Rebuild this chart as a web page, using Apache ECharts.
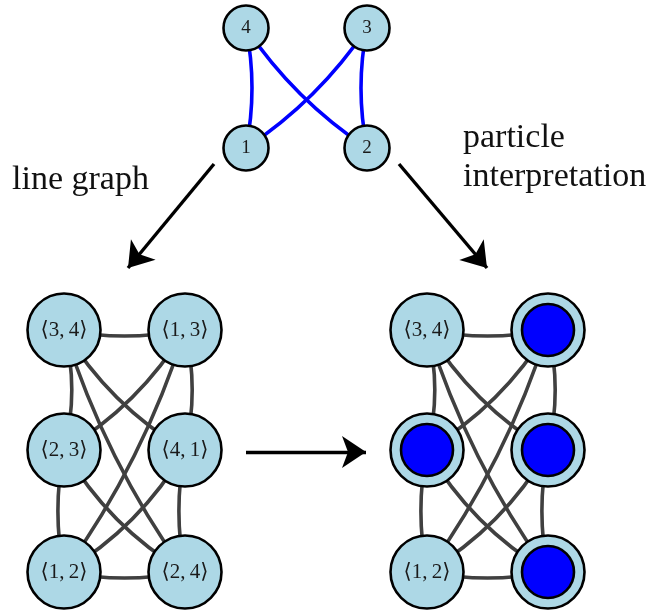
<!DOCTYPE html>
<html><head><meta charset="utf-8">
<script src="https://cdn.jsdelivr.net/npm/echarts@6/dist/echarts.min.js"></script>
<style>html,body{margin:0;padding:0;background:#fff}#c{width:653px;height:615px}</style>
</head><body><div id="c"></div>
<script>
// ---- data ----
const baseNodes = ['1', '2', '3', '4'];
const baseEdges = [['4', '1'], ['4', '2'], ['3', '1'], ['3', '2']];
const lineNodes = ['⟨3,\u20094⟩', '⟨1,\u20093⟩', '⟨2,\u20093⟩', '⟨4,\u20091⟩', '⟨1,\u20092⟩', '⟨2,\u20094⟩'];
const lineEdges = [
  [0, 1], [0, 2], [0, 3], [0, 5],
  [1, 3], [1, 2], [1, 4],
  [2, 4], [2, 5],
  [3, 4], [3, 5],
  [4, 5]
];
const occupied = [false, true, true, true, false, true];
const captionLeft = 'line graph';
const captionRight = ['particle', 'interpretation'];

// ---- layout (pixel coordinates) ----
const basePos = { '1': [246, 148], '2': [367, 148], '3': [367, 28], '4': [246, 28] };
const baseCurve = { '4-1': 0.1, '4-2': -0.1, '3-1': 0.1, '3-2': -0.1 };
const leftCols = [64, 185], rightCols = [427, 548], rows = [330, 450, 572];
const lineCurve = [-0.1, 0.13, -0.125, -0.08, 0.12, 0.125, 0.08, -0.1, -0.13, 0.13, -0.1, -0.1];
const arrows = [
  [[214, 164], [128, 268]],
  [[399, 164], [487, 268]],
  [[246, 452], [366, 452]]
];

const LB = '#add8e6', GRAY = '#404040';
const FONT = '"Liberation Serif", "DejaVu Serif", serif';

function linePos(i, cols) { return [cols[i % 2], rows[Math.floor(i / 2)]]; }

function lineGraph(cols, withOcc) {
  return {
    type: 'graph', coordinateSystem: 'cartesian2d', layout: 'none', silent: true,
    symbol: 'circle', symbolSize: 73, z: 2,
    itemStyle: { color: LB, borderColor: '#000', borderWidth: 2.6 },
    label: { show: true, position: 'inside', color: '#1a1a1a', fontFamily: FONT, fontSize: 21 },
    lineStyle: { color: GRAY, width: 3.6, opacity: 1 },
    data: lineNodes.map((n, i) => ({
      name: n, value: linePos(i, cols),
      label: { show: !(withOcc && occupied[i]) }
    })),
    links: lineEdges.map((e, k) => ({ source: e[0], target: e[1], lineStyle: { curveness: lineCurve[k] } }))
  };
}

const option = {
  animation: false,
  grid: { left: 0, right: 0, top: 0, bottom: 0 },
  xAxis: { type: 'value', min: 0, max: 653, show: false },
  yAxis: { type: 'value', min: 0, max: 615, inverse: true, show: false },
  series: [
    {
      type: 'graph', coordinateSystem: 'cartesian2d', layout: 'none', silent: true,
      symbol: 'circle', symbolSize: 45, z: 2,
      itemStyle: { color: LB, borderColor: '#000', borderWidth: 2.6 },
      label: { show: true, position: 'inside', color: '#1a1a1a', fontFamily: FONT, fontSize: 19 },
      lineStyle: { color: '#0000ff', width: 3.6, opacity: 1 },
      data: baseNodes.map(n => ({ name: n, value: basePos[n] })),
      links: baseEdges.map(e => ({ source: e[0], target: e[1], lineStyle: { curveness: baseCurve[e[0] + '-' + e[1]] } }))
    },
    lineGraph(leftCols, false),
    lineGraph(rightCols, true),
    {
      type: 'scatter', silent: true, z: 5, symbol: 'circle', symbolSize: 52,
      itemStyle: { color: '#0000ff', borderColor: '#000', borderWidth: 2.6, opacity: 1 },
      data: lineNodes.map((n, i) => occupied[i] ? linePos(i, rightCols) : null).filter(d => d)
    },
    {
      type: 'lines', coordinateSystem: 'cartesian2d', silent: true, z: 3,
      symbol: ['none', 'arrow'], symbolSize: 24,
      lineStyle: { color: '#000', width: 3.4, opacity: 1, curveness: 0 },
      data: arrows.map(a => ({ coords: a }))
    }
  ],
  graphic: [
    { type: 'text', left: 12, top: 163, style: { text: captionLeft, font: '34px ' + FONT, fill: '#111' } },
    { type: 'text', left: 463, top: 121, style: { text: captionRight[0], font: '34px ' + FONT, fill: '#111' } },
    { type: 'text', left: 463, top: 160, style: { text: captionRight[1], font: '34px ' + FONT, fill: '#111' } }
  ]
};
const chart = echarts.init(document.getElementById('c'), null, { renderer: 'canvas' });
chart.setOption(option);
</script></body></html>
